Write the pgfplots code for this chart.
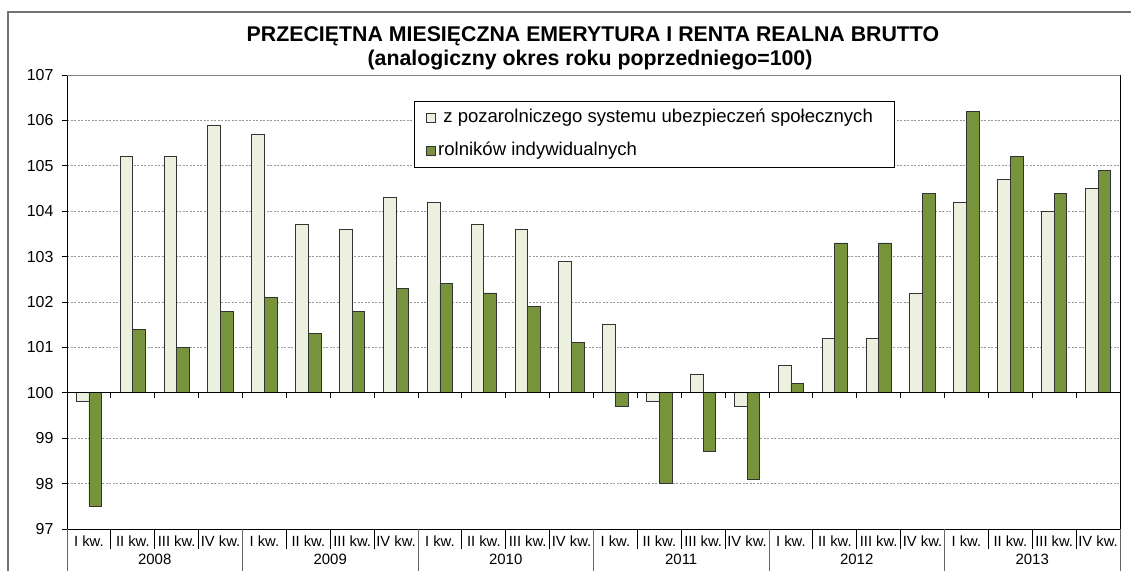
\documentclass[border=0pt]{standalone}
\usepackage{pgfplots}
\pgfplotsset{compat=1.18}
\usepackage{fontspec}
\setmainfont{Liberation Sans}
\definecolor{lightbar}{HTML}{EBF1DE}
\definecolor{olivebar}{HTML}{77933C}
\begin{document}
\begin{tikzpicture}[x=1bp,y=1bp]
\useasboundingbox (0,0) rectangle (1131,571);
\draw[black!55, line width=1.2bp] (8,-5) -- (8,559) -- (1140,559);
\node[font=\fontsize{21.4}{24}\selectfont\bfseries] at (593,535) {PRZECIĘTNA MIESIĘCZNA EMERYTURA I RENTA REALNA BRUTTO};
\node[font=\fontsize{21.4}{24}\selectfont\bfseries] at (590,511) {(analogiczny okres roku poprzedniego=100)};
\begin{axis}[
  at={(67bp,42bp)}, anchor=south west,
  scale only axis, width=1053bp, height=454bp,
  clip=false,
  ybar=0pt, bar width=12.7bp,
  xmin=-0.5, xmax=23.5, ymin=97, ymax=107,
  y coord trafo/.code={\pgfmathparse{#1-100}},
  y coord inv trafo/.code={\pgfmathparse{#1+100}},
  ytick={97,98,99,100,101,102,103,104,105,106,107},
  yticklabels={97,98,99,100,101,102,103,104,105,106,107},
  ymajorgrids, grid style={black!40, dash pattern=on 2bp off 1.5bp, line width=0.6bp},
  ytick pos=left, tick align=outside, major tick length=5bp,
  ytick style={black, line width=0.8bp},
  yticklabel style={font=\fontsize{16}{18}\selectfont, anchor=east, xshift=-5bp},
  xtick={0,...,23},
  xticklabels={I kw.,II kw.,III kw.,IV kw.,I kw.,II kw.,III kw.,IV kw.,I kw.,II kw.,III kw.,IV kw.,I kw.,II kw.,III kw.,IV kw.,I kw.,II kw.,III kw.,IV kw.,I kw.,II kw.,III kw.,IV kw.},
  xtick style={draw=none},
  xticklabel style={font=\fontsize{14.8}{16}\selectfont, anchor=center, yshift=-8bp, text height=10bp, text depth=0bp},
  separate axis lines,
  x axis line style={draw=none},
  y axis line style={black, line width=0.9bp},
  legend style={at={(0.3295,0.9427)}, anchor=north west, draw=black, line width=0.9bp,
    font=\fontsize{18.6}{21}\selectfont, inner xsep=12bp, inner ysep=6bp, row sep=12bp,
    nodes={inner sep=2bp, text height=13bp, text depth=4bp}},
  legend cell align=left,
]
\addplot[fill=lightbar, draw=black!80, line width=0.8bp,
  legend image code/.code={\draw[fill=lightbar, draw=black!80, line width=0.8bp] (0bp,-4.5bp) rectangle (9bp,4.5bp);}]
  coordinates {(0,99.8) (1,105.2) (2,105.2) (3,105.9) (4,105.7) (5,103.7) (6,103.6) (7,104.3)
  (8,104.2) (9,103.7) (10,103.6) (11,102.9) (12,101.5) (13,99.8) (14,100.4) (15,99.7)
  (16,100.6) (17,101.2) (18,101.2) (19,102.2) (20,104.2) (21,104.7) (22,104.0) (23,104.5)};
\addlegendentry{\ z pozarolniczego systemu ubezpieczeń społecznych\kern8bp\rule{0pt}{1pt}}
\addplot[fill=olivebar, draw=black!80, line width=0.8bp,
  legend image code/.code={\draw[fill=olivebar, draw=black!80, line width=0.8bp] (0bp,-4.5bp) rectangle (9bp,4.5bp);}]
  coordinates {(0,97.5) (1,101.4) (2,101.0) (3,101.8) (4,102.1) (5,101.3) (6,101.8) (7,102.3)
  (8,102.4) (9,102.2) (10,101.9) (11,101.1) (12,99.7) (13,98.0) (14,98.7) (15,98.1)
  (16,100.2) (17,103.3) (18,103.3) (19,104.4) (20,106.2) (21,105.2) (22,104.4) (23,104.9)};
\addlegendentry{rolników indywidualnych}
\draw[black!50, line width=0.9bp] (rel axis cs:0,1) -- (rel axis cs:1,1);
\draw[black, line width=0.9bp] (rel axis cs:0,0) -- (rel axis cs:1,0);
\draw[black, line width=0.9bp] (rel axis cs:0,0.3) -- (rel axis cs:1,0.3);
\pgfplotsinvokeforeach{1,...,23}{\draw[black, line width=0.8bp] (rel axis cs:#1/24,0.3) -- ([yshift=-5bp]rel axis cs:#1/24,0.3);}
\pgfplotsinvokeforeach{1,2,3,5,6,7,9,10,11,13,14,15,17,18,19,21,22,23}{\draw[black, line width=0.8bp] (rel axis cs:#1/24,0) -- ([yshift=-20bp]rel axis cs:#1/24,0);}
\pgfplotsinvokeforeach{0,4,8,12,16,20,24}{\draw[black!60, line width=0.9bp] (rel axis cs:#1/24,0) -- ([yshift=-50bp]rel axis cs:#1/24,0);}
\node[font=\fontsize{15}{17}\selectfont] at (rel axis cs:0.08333,0) [yshift=-30bp] {2008};
\node[font=\fontsize{15}{17}\selectfont] at (rel axis cs:0.25,0) [yshift=-30bp] {2009};
\node[font=\fontsize{15}{17}\selectfont] at (rel axis cs:0.41667,0) [yshift=-30bp] {2010};
\node[font=\fontsize{15}{17}\selectfont] at (rel axis cs:0.58333,0) [yshift=-30bp] {2011};
\node[font=\fontsize{15}{17}\selectfont] at (rel axis cs:0.75,0) [yshift=-30bp] {2012};
\node[font=\fontsize{15}{17}\selectfont] at (rel axis cs:0.91667,0) [yshift=-30bp] {2013};
\end{axis}
\end{tikzpicture}
\end{document}
